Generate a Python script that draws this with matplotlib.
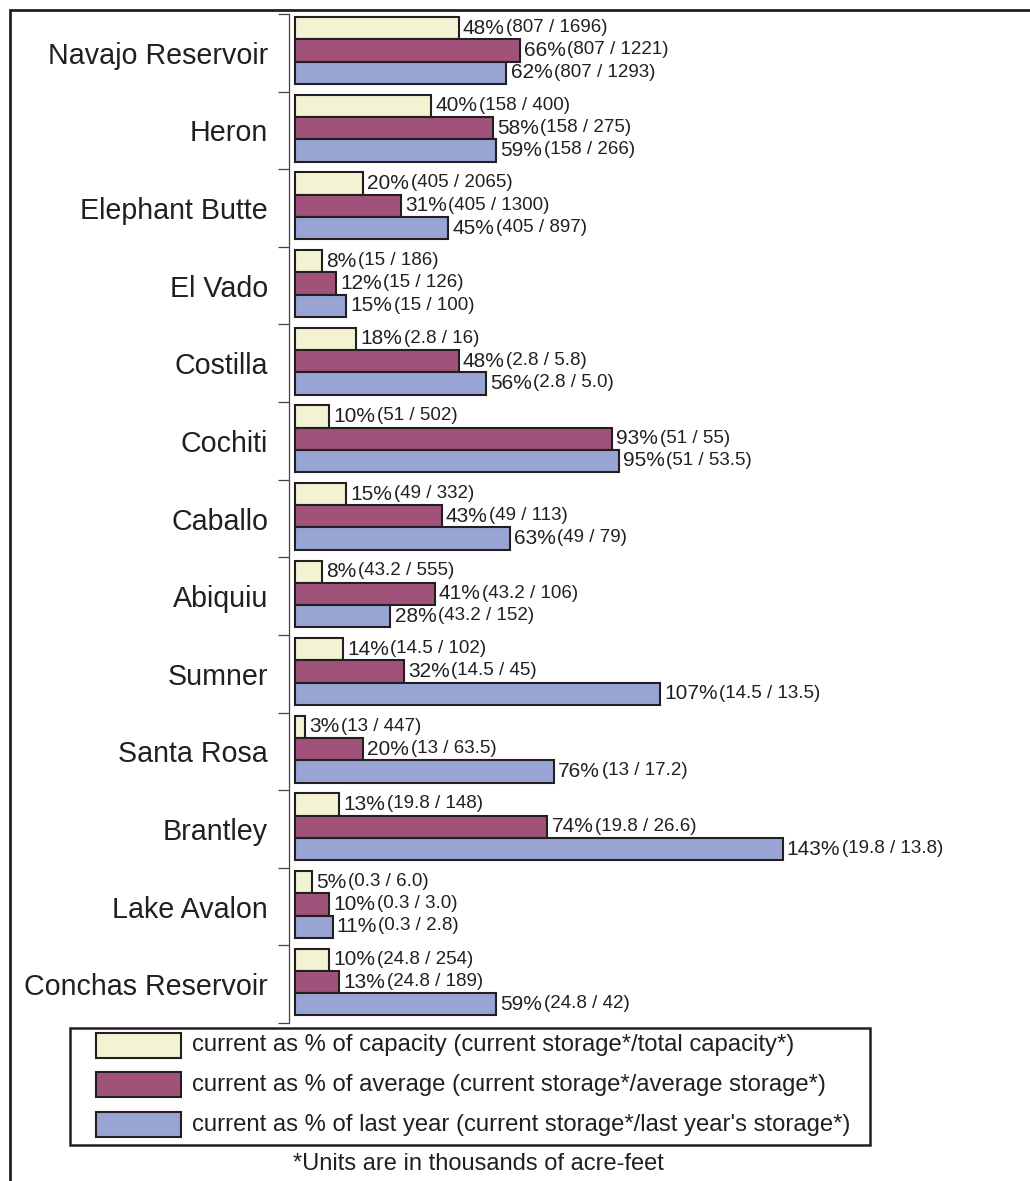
import matplotlib.pyplot as plt
from matplotlib.patches import Rectangle

plt.rcParams['font.family'] = ['Liberation Sans', 'DejaVu Sans']

reservoirs = ['Navajo Reservoir', 'Heron', 'Elephant Butte', 'El Vado', 'Costilla',
              'Cochiti', 'Caballo', 'Abiquiu', 'Sumner', 'Santa Rosa', 'Brantley',
              'Lake Avalon', 'Conchas Reservoir']

pct_capacity = [48, 40, 20, 8, 18, 10, 15, 8, 14, 3, 13, 5, 10]
pct_average = [66, 58, 31, 12, 48, 93, 43, 41, 32, 20, 74, 10, 13]
pct_last_year = [62, 59, 45, 15, 56, 95, 63, 28, 107, 76, 143, 11, 59]

# storage values in thousands of acre-feet, kept as printed
current_storage = ['807', '158', '405', '15', '2.8', '51', '49', '43.2', '14.5', '13', '19.8', '0.3', '24.8']
total_capacity = ['1696', '400', '2065', '186', '16', '502', '332', '555', '102', '447', '148', '6.0', '254']
average_storage = ['1221', '275', '1300', '126', '5.8', '55', '113', '106', '45', '63.5', '26.6', '3.0', '189']
last_year_storage = ['1293', '266', '897', '100', '5.0', '53.5', '79', '152', '13.5', '17.2', '13.8', '2.8', '42']

legend_labels = ['current as % of capacity (current storage*/total capacity*)',
                 'current as % of average (current storage*/average storage*)',
                 "current as % of last year (current storage*/last year's storage*)"]
colors = ['#f3f3d3', '#a0527a', '#98a4d4']
dark = '#231f20'

W, H = 1030, 1181
fig = plt.figure(figsize=(W / 100, H / 100), dpi=100)
ax = fig.add_axes([289 / W, 1 - 1023 / H, (1000 - 289) / W, (1023 - 14) / H])

ppx = 3.41  # pixels per percent
x0 = -(295 - 289) / ppx
ax.set_xlim(x0, x0 + (1000 - 289) / ppx)
ax.set_ylim(len(reservoirs), 0)

bar_h = 0.287
offsets = [0.185, 0.185 + bar_h, 0.185 + 2 * bar_h]
series = [pct_capacity, pct_average, pct_last_year]
denoms = [total_capacity, average_storage, last_year_storage]

for k in range(3):
    ys = [i + offsets[k] for i in range(len(reservoirs))]
    ax.barh(ys, series[k], height=bar_h, left=0, color=colors[k],
            edgecolor=dark, linewidth=1.5, zorder=3)
    for i, y in enumerate(ys):
        t = ax.annotate(f'{series[k][i]}%', xy=(series[k][i], y), xytext=(3, 0),
                        textcoords='offset points', va='center', ha='left',
                        fontsize=15, color=dark)
        ax.annotate(f'({current_storage[i]} / {denoms[k][i]})', xy=(1, 0.5), xycoords=t,
                    xytext=(1, 0.5), textcoords='offset points', va='center', ha='left',
                    fontsize=13.5, color=dark)

# axis styling
for s in ['top', 'right', 'bottom']:
    ax.spines[s].set_visible(False)
ax.spines['left'].set_color('#444444')
ax.spines['left'].set_linewidth(0.9)
ax.set_xticks([])
ax.set_yticks([i + 0.5 for i in range(len(reservoirs))])
ax.set_yticklabels(reservoirs, fontsize=20.6, color=dark)
ax.tick_params(axis='y', which='major', length=0, pad=15)
ax.set_yticks(range(len(reservoirs) + 1), minor=True)
ax.tick_params(axis='y', which='minor', length=8, width=0.9, color='#444444')

# outer frame
fig.patches.append(Rectangle((10 / W, -0.05), 1.2, 1 - 10 / H + 0.05, transform=fig.transFigure,
                             fill=False, lw=2, ec=dark))

# legend box
fig.patches.append(Rectangle((70 / W, 1 - 1145 / H), 800 / W, 117 / H, transform=fig.transFigure,
                             fill=False, lw=1.8, ec=dark))
row_y = [1045.5, 1084.5, 1124.5]
for k in range(3):
    fig.patches.append(Rectangle((96 / W, 1 - (row_y[k] + 12.5) / H), 85 / W, 25 / H,
                                 transform=fig.transFigure, fc=colors[k], ec=dark, lw=1.5))
    fig.text(192 / W, 1 - row_y[k] / H, legend_labels[k], fontsize=17.2, color=dark,
             va='center', ha='left')

fig.text(478 / W, 1 - 1164 / H, '*Units are in thousands of acre-feet', fontsize=17,
         color=dark, va='center', ha='center')

plt.savefig('out.png', dpi=100)
